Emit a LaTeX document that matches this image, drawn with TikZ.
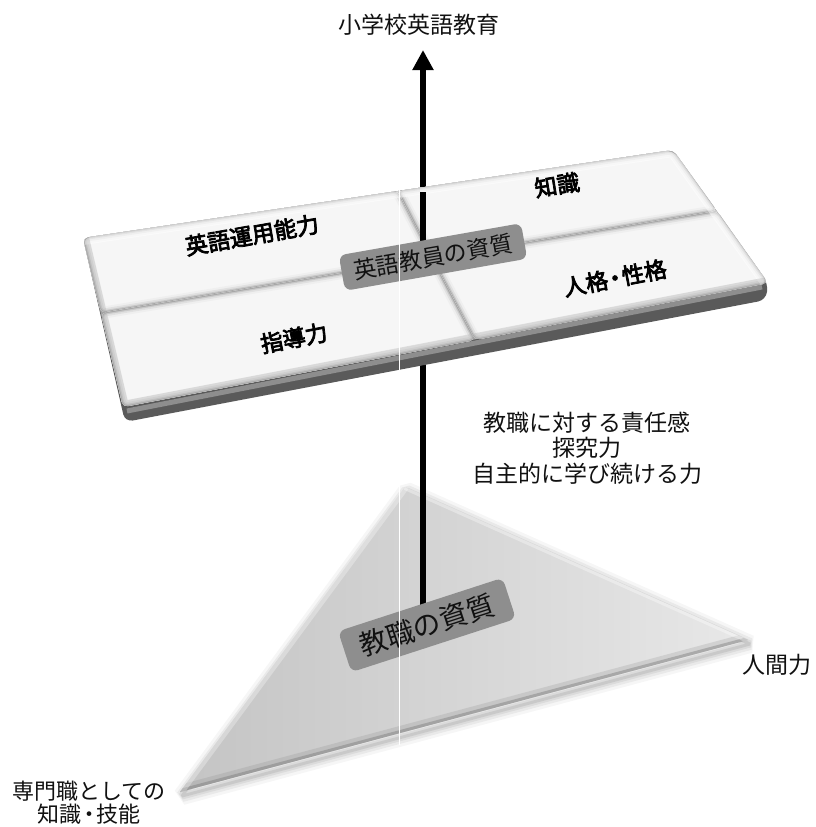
\documentclass[tikz,border=0pt]{standalone}
\usepackage{fontspec}
\newfontfamily\jp{Noto Sans CJK JP}
\newfontfamily\jpb[FakeBold=3.5]{Noto Sans CJK JP}
\usetikzlibrary{arrows.meta}
\definecolor{tileface}{HTML}{F6F6F6}
\definecolor{bevA}{HTML}{EFEFEF}
\definecolor{bevB}{HTML}{E0E0E0}
\definecolor{bevC}{HTML}{C8C8C8}
\definecolor{bevD}{HTML}{A8A8A8}
\definecolor{groovecol}{HTML}{9A9A9A}
\definecolor{sidecol}{HTML}{5A5A5A}
\definecolor{sidehi}{HTML}{8E8E8E}
\definecolor{boxgray}{HTML}{8E8E8E}
\definecolor{triL}{HTML}{C4C4C4}
\definecolor{triR}{HTML}{E8E8E8}
\definecolor{txt}{HTML}{111111}
\newcommand\boardtile[4]{%
  \begin{scope}
    \clip[rounded corners=5] (#1) -- (#2) -- (#3) -- (#4) -- cycle;
    \fill[tileface] (#1) -- (#2) -- (#3) -- (#4) -- cycle;
    \foreach \w/\c in {12/bevA, 8/bevB, 4.5/bevC, 2/bevD}
      \draw[line width=\w, draw=\c, rounded corners=5] (#1) -- (#2) -- (#3) -- (#4) -- cycle;
  \end{scope}}
\newcommand\nakaguro{\kern-4pt・\kern-4pt}
\begin{document}
\begin{tikzpicture}[x=1pt,y=-1pt,
  plain/.style={font=\jp\fontsize{23}{25.5}\selectfont, text=txt, inner sep=0pt, align=center},
  boardlab/.style={font=\jpb\fontsize{22.5}{24}\selectfont, text=black, inner sep=0pt},
  graybox/.style={fill=boxgray, rounded corners=7, inner sep=0pt, text=txt},
  arrowline/.style={line width=6.5pt, black},
]
\useasboundingbox (0,0) rectangle (816,827);
\fill[white] (0,0) rectangle (816,827);

% ---- coordinates
\coordinate (T) at (405,487);
\coordinate (R) at (748,640);
\coordinate (L) at (180,792);
\coordinate (A) at (83,238);
\coordinate (B) at (673,150);
\coordinate (C) at (768,283);
\coordinate (D) at (123,407);
\coordinate (Cs) at (766,300);
\coordinate (Ds) at (125,422);
\coordinate (H1) at (101,313);
\coordinate (H2) at (717,211);
\coordinate (V1) at (398,191);
\coordinate (V2) at (475,340);
\coordinate (I) at (432,258);
\coordinate (arrowbot) at (423,607);
\coordinate (arrowtip) at (423,50);
\coordinate (upA) at (423,192);
\coordinate (upB) at (423,252);

% ---- triangle
\foreach \w/\o in {18/0.035, 12/0.05, 7/0.06, 3/0.08}
  \draw[line width=\w, black, opacity=\o, line join=bevel]
    ([shift={(2,4)}]T) -- ([shift={(2,4)}]R) -- ([shift={(2,4)}]L) -- cycle;
\shade[left color=triL, right color=triR] (T) -- (R) -- (L) -- cycle;
\begin{scope}
  \clip (T) -- (R) -- (L) -- cycle;
  \draw[line width=14, gray, opacity=0.2] (L) -- (R);
  \draw[line width=6, gray!90!black, opacity=0.4] (L) -- (R);
  \draw[line width=8, white, opacity=0.3] (T) -- (L);
  \draw[line width=6, white, opacity=0.35] (T) -- (R);
\end{scope}

% ---- arrow (full, behind the board)
\draw[arrowline, -{Triangle[width=20pt,length=20pt]}] (arrowbot) -- (arrowtip);

% ---- board
\fill[sidecol, rounded corners=8] (A) -- (B) -- (C) -- (Cs) -- (Ds) -- cycle;
\draw[sidehi, line width=5] ([shift={(4,4)}]D) -- ([shift={(-6,4)}]C);
\fill[groovecol, rounded corners=8] (A) -- (B) -- (C) -- (D) -- cycle;
\boardtile{A}{V1}{I}{H1}
\boardtile{V1}{B}{H2}{I}
\boardtile{I}{H2}{C}{V2}
\boardtile{H1}{I}{V2}{D}
\begin{scope}
  \clip[rounded corners=8] (A) -- (B) -- (C) -- (D) -- cycle;
  \draw[line width=14, white, opacity=0.5] (A) -- (B) -- (C);
  \draw[line width=12, gray!60, opacity=0.35] (A) -- (D) -- (C);
\end{scope}

% ---- arrow segment above the board centre
\draw[arrowline] (upA) -- (upB);

% ---- labels on the board
\node[graybox, rotate=10, minimum width=185, minimum height=36,
      font=\jp\fontsize{23}{25}\selectfont] (eikyoin) at (433,257) {英語教員の資質};
\node[boardlab, rotate=10] (eigo) at (252,235) {英語運用能力};
\node[boardlab, rotate=9] (chishiki) at (557,185) {知識};
\node[boardlab, rotate=11] (jinkaku) at (615,278) {人格\nakaguro 性格};
\node[boardlab, rotate=11] (shido) at (294,338) {指導力};

% ---- label on the triangle
\node[graybox, rotate=18, minimum width=173, minimum height=43,
      font=\jp\fontsize{28}{30}\selectfont] (kyoshoku) at (427,625) {教職の資質};

% ---- free texts
\node[plain] (title) at (419,25) {小学校英語教育};
\node[plain] (qual) at (587,448) {教職に対する責任感\\探究力\\自主的に学び続ける力};
\node[plain, anchor=west] (ningen) at (742,665) {人間力};
\node[plain, font=\jp\fontsize{22}{23}\selectfont] (senmon) at (89,803) {専門職としての\\知識\nakaguro 技能};

% ---- thin light seam
\draw[white, line width=0.8] (399,183) -- (399,745);
\end{tikzpicture}
\end{document}
